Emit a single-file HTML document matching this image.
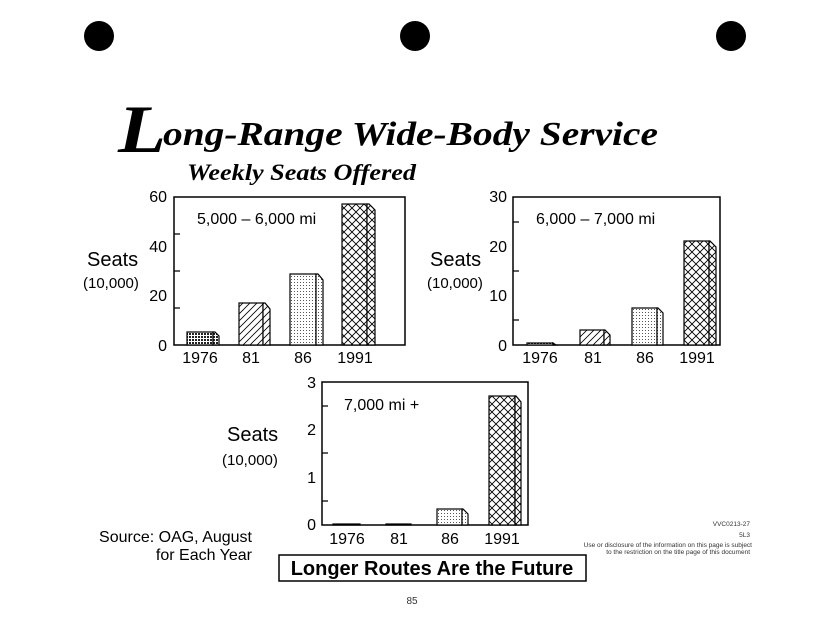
<!DOCTYPE html>
<html><head><style>body{margin:0;background:#fff}svg{display:block}</style></head><body>
<svg width="825" height="639" viewBox="0 0 825 639" xmlns="http://www.w3.org/2000/svg" font-family="Liberation Sans, sans-serif">
<defs>
<pattern id="dd" width="3" height="3" patternUnits="userSpaceOnUse"><rect width="3" height="3" fill="#fff"/><rect width="2" height="2" fill="#222"/></pattern>
<pattern id="fd" width="3" height="3" patternUnits="userSpaceOnUse"><rect width="3" height="3" fill="#fff"/><rect width="1" height="1" fill="#555"/></pattern>
<pattern id="hh" width="7" height="7" patternUnits="userSpaceOnUse"><rect width="7" height="7" fill="#fff"/><path d="M-1 8L8 -1M-1 1L1 -1M6 8L8 6" stroke="#000" stroke-width="0.8"/></pattern>
<pattern id="xx" width="8" height="8" patternUnits="userSpaceOnUse"><rect width="8" height="8" fill="#fff"/><path d="M0 0L8 8M8 0L0 8" stroke="#000" stroke-width="0.9"/></pattern>
</defs>
<rect width="825" height="639" fill="#fff"/>
<circle cx="99" cy="36" r="15"/><circle cx="415" cy="36" r="15"/><circle cx="731" cy="36" r="15"/>
<text x="118" y="152" font-family="Liberation Serif, serif" font-style="italic" font-weight="bold" font-size="68" textLength="48" lengthAdjust="spacingAndGlyphs">L</text>
<text x="163" y="145" font-family="Liberation Serif, serif" font-style="italic" font-weight="bold" font-size="34" textLength="495" lengthAdjust="spacingAndGlyphs">ong-Range Wide-Body Service</text>
<text x="187" y="180" font-family="Liberation Serif, serif" font-style="italic" font-weight="bold" font-size="23" textLength="229" lengthAdjust="spacingAndGlyphs">Weekly Seats Offered</text>

<!-- chart1 -->
<g stroke="#000" stroke-width="1.2">
<rect x="174" y="197" width="231" height="148" fill="none" stroke-width="1.5"/>
<path d="M174 234h6M174 271h6M174 308h6"/>
<rect x="187" y="332" width="26" height="13" fill="url(#dd)"/><path d="M213 332h2l4 4v9h-6z" fill="url(#dd)"/>
<rect x="239" y="303" width="24" height="42" fill="url(#hh)"/><path d="M263 303h2l5 6v36h-7z" fill="url(#hh)"/>
<rect x="290" y="274" width="26" height="71" fill="url(#fd)"/><path d="M316 274h2l5 6v65h-7z" fill="url(#fd)"/>
<rect x="342" y="204" width="25" height="141" fill="url(#xx)"/><path d="M367 204h2l6 6v135h-8z" fill="url(#xx)"/>
</g>
<g font-size="16" text-anchor="end"><text x="167" y="202">60</text><text x="167" y="252">40</text><text x="167" y="301">20</text><text x="167" y="351">0</text></g>
<g font-size="16" text-anchor="middle"><text x="200" y="363">1976</text><text x="251" y="363">81</text><text x="303" y="363">86</text><text x="355" y="363">1991</text></g>
<text x="197" y="224" font-size="16">5,000 – 6,000 mi</text>
<text x="87" y="266" font-size="20">Seats</text><text x="83" y="288" font-size="15">(10,000)</text>

<!-- chart2 -->
<g stroke="#000" stroke-width="1.2">
<rect x="513" y="197" width="207" height="148" fill="none" stroke-width="1.5"/>
<path d="M513 222h6M513 271h6M513 320h6"/>
<rect x="527" y="343" width="26" height="2" fill="url(#dd)"/><path d="M553 343l3 2h-3z"/>
<rect x="580" y="330" width="24" height="15" fill="url(#hh)"/><path d="M604 330h1l5 5v10h-6z" fill="url(#hh)"/>
<rect x="632" y="308" width="25" height="37" fill="url(#fd)"/><path d="M657 308h1l5 5v32h-6z" fill="url(#fd)"/>
<rect x="684" y="241" width="25" height="104" fill="url(#xx)"/><path d="M709 241h1l6 6v98h-7z" fill="url(#xx)"/>
</g>
<g font-size="16" text-anchor="end"><text x="507" y="202">30</text><text x="507" y="252">20</text><text x="507" y="301">10</text><text x="507" y="351">0</text></g>
<g font-size="16" text-anchor="middle"><text x="540" y="363">1976</text><text x="593" y="363">81</text><text x="645" y="363">86</text><text x="697" y="363">1991</text></g>
<text x="536" y="224" font-size="16">6,000 – 7,000 mi</text>
<text x="430" y="266" font-size="20">Seats</text><text x="427" y="288" font-size="15">(10,000)</text>

<!-- chart3 -->
<g stroke="#000" stroke-width="1.2">
<rect x="322" y="382" width="206" height="143" fill="none" stroke-width="1.5"/>
<path d="M322 406h6M322 453h6M322 501h6"/>
<rect x="333" y="524" width="27" height="1" fill="#000"/>
<rect x="386" y="524" width="25" height="1" fill="#000"/>
<rect x="437" y="509" width="25" height="16" fill="url(#fd)"/><path d="M462 509h1l5 5v11h-6z" fill="url(#fd)"/>
<rect x="489" y="396" width="26" height="129" fill="url(#xx)"/><path d="M515 396h1l5 6v123h-6z" fill="url(#xx)"/>
</g>
<g font-size="16" text-anchor="end"><text x="316" y="388">3</text><text x="316" y="435">2</text><text x="316" y="483">1</text><text x="316" y="530">0</text></g>
<g font-size="16" text-anchor="middle"><text x="347" y="544">1976</text><text x="399" y="544">81</text><text x="450" y="544">86</text><text x="502" y="544">1991</text></g>
<text x="344" y="410" font-size="16">7,000 mi +</text>
<text x="227" y="441" font-size="20">Seats</text><text x="222" y="465" font-size="15">(10,000)</text>

<text x="252" y="542" font-size="16" text-anchor="end">Source: OAG, August</text>
<text x="252" y="560" font-size="16" text-anchor="end">for Each Year</text>
<rect x="279" y="555" width="307" height="26" fill="none" stroke="#000" stroke-width="1.5"/>
<text x="432" y="575" font-size="20" font-weight="bold" text-anchor="middle">Longer Routes Are the Future</text>
<g font-size="6.5" fill="#333" text-anchor="end"><text x="750" y="526">VVC0213-27</text><text x="750" y="537">5L3</text><text x="752" y="547">Use or disclosure of the information on this page is subject</text><text x="750" y="554">to the restriction on the title page of this document</text></g>
<text x="412" y="604" font-size="10" fill="#333" text-anchor="middle">85</text>
</svg>
</body></html>
